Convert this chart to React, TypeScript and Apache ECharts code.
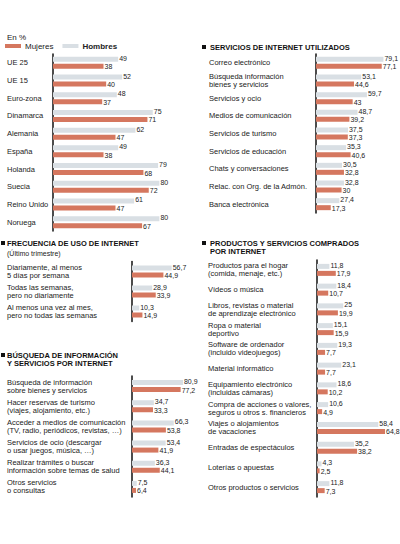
import React, { useEffect, useRef } from 'react';
import * as echarts from 'echarts';

// ---------- DATA ----------
const paisesCats = ['UE 25', 'UE 15', 'Euro-zona', 'Dinamarca', 'Alemania', 'España', 'Holanda', 'Suecia', 'Reino Unido', 'Noruega'];
const paisesHombres = [49, 52, 48, 75, 62, 49, 79, 80, 61, 80];
const paisesMujeres = [38, 40, 37, 71, 47, 38, 68, 72, 47, 67];

const serviciosCats = [
  'Correo electrónico',
  'Búsqueda información\nbienes y servicios',
  'Servicios y ocio',
  'Medios de comunicación',
  'Servicios de turismo',
  'Servicios de educación',
  'Chats y conversaciones',
  'Relac. con Org. de la Admón.',
  'Banca electrónica',
];
const serviciosHombres = [79.1, 53.1, 59.7, 48.7, 37.5, 35.3, 30.5, 32.8, 27.4];
const serviciosMujeres = [77.1, 44.6, 43, 39.2, 37.3, 40.6, 32.8, 30, 17.3];

const frecuenciaCats = [
  'Diariamente, al menos\n5 días por semana',
  'Todas las semanas,\npero no diariamente',
  'Al menos una vez al mes,\npero no todas las semanas',
];
const frecuenciaHombres = [56.7, 28.9, 10.3];
const frecuenciaMujeres = [44.9, 33.9, 14.9];

const busquedaCats = [
  'Búsqueda de información\nsobre bienes y servicios',
  'Hacer reservas de turismo\n(viajes, alojamiento, etc.)',
  'Acceder a medios de comunicación\n(TV, radio, periódicos, revistas, …)',
  'Servicios de ocio (descargar\no usar juegos, música, …)',
  'Realizar trámites o buscar\ninformación sobre temas de salud',
  'Otros servicios\no consultas',
];
const busquedaHombres = [80.9, 34.7, 66.3, 53.4, 36.3, 7.5];
const busquedaMujeres = [77.2, 33.3, 53.8, 41.9, 44.1, 6.4];

const productosCats = [
  'Productos para el hogar\n(comida, menaje, etc.)',
  'Vídeos o música',
  'Libros, revistas o material\nde aprendizaje electrónico',
  'Ropa o material\ndeportivo',
  'Software de ordenador\n(incluido videojuegos)',
  'Material informático',
  'Equipamiento electrónico\n(incluidas cámaras)',
  'Compra de acciones o valores,\nseguros u otros s. financieros',
  'Viajes o alojamientos\nde vacaciones',
  'Entradas de espectáculos',
  'Loterías o apuestas',
  'Otros productos o servicios',
];
const productosHombres = [11.8, 18.4, 25, 15.1, 19.3, 23.1, 18.6, 10.6, 58.4, 35.2, 4.3, 11.8];
const productosMujeres = [17.9, 10.7, 19.9, 15.9, 7.7, 7.7, 10.2, 4.9, 64.8, 38.2, 2.5, 7.3];

// ---------- STYLE ----------
const FONT = '"Liberation Sans", Arial, sans-serif';
const C_H = '#d9dfe4';
const C_M = '#d5775f';
const TXT = '#222';

const fmt = (p: any) => String(p.value).replace('.', ',');

type Panel = {
  cats: string[];
  h: number[];
  m: number[];
  left: number;
  top: number;
  width: number;
  height: number;
  max: number;
  labelX: number;
  barW: number;
};

const panels: Panel[] = [
  { cats: paisesCats, h: paisesHombres, m: paisesMujeres, left: 53, top: 54, width: 133, height: 177, max: 100, labelX: 7, barW: 5 },
  { cats: serviciosCats, h: serviciosHombres, m: serviciosMujeres, left: 316, top: 54, width: 81, height: 159, max: 95, labelX: 209, barW: 5 },
  { cats: frecuenciaCats, h: frecuenciaHombres, m: frecuenciaMujeres, left: 132, top: 261.5, width: 70, height: 60, max: 100, labelX: 7, barW: 5 },
  { cats: busquedaCats, h: busquedaHombres, m: busquedaMujeres, left: 132, top: 376, width: 63, height: 121, max: 100, labelX: 7, barW: 5 },
  { cats: productosCats, h: productosHombres, m: productosMujeres, left: 317, top: 260, width: 73.5, height: 237, max: 70, labelX: 208, barW: 5 },
];

function buildOption() {
  const grid: any[] = [];
  const xAxis: any[] = [];
  const yAxis: any[] = [];
  const series: any[] = [];
  panels.forEach((p, i) => {
    grid.push({ left: p.left, top: p.top, width: p.width, height: p.height, containLabel: false, outerBoundsMode: 'none' });
    xAxis.push({ type: 'value', gridIndex: i, min: 0, max: p.max, show: false });
    yAxis.push({
      type: 'category',
      gridIndex: i,
      data: p.cats,
      inverse: true,
      axisLine: { show: true, lineStyle: { color: '#111', width: 1.5 } },
      axisTick: { show: false },
      splitLine: { show: false },
      axisLabel: {
        align: 'left',
        margin: p.left - p.labelX,
        fontSize: 7.5,
        lineHeight: 8,
        color: TXT,
        fontFamily: FONT,
      },
    });
    const label = (dy: number) => ({
      show: true,
      position: 'right',
      distance: 1,
      offset: [0, dy],
      fontSize: 7,
      color: TXT,
      fontFamily: FONT,
      formatter: fmt,
    });
    series.push({
      name: 'Hombres',
      type: 'bar',
      xAxisIndex: i,
      yAxisIndex: i,
      data: p.h,
      barWidth: p.barW,
      barGap: '40%',
      itemStyle: { color: C_H },
      label: label(-1),
    });
    series.push({
      name: 'Mujeres',
      type: 'bar',
      xAxisIndex: i,
      yAxisIndex: i,
      data: p.m,
      barWidth: p.barW,
      barGap: '40%',
      itemStyle: { color: C_M },
      label: label(0.5),
    });
  });

  const headerStyle = { fill: '#111', fontSize: 7.5, fontWeight: 'bold', fontFamily: FONT, lineHeight: 8 };
  const bullet = (x: number, y: number) => ({ type: 'rect', left: x, top: y, shape: { width: 4, height: 4 }, style: { fill: '#111' } });

  const graphic: any[] = [
    { type: 'text', left: 7, top: 33, style: { text: 'En %', fontSize: 8, fill: TXT, fontFamily: FONT } },
    bullet(202, 45),
    { type: 'text', left: 210, top: 43, style: { text: 'SERVICIOS DE INTERNET UTILIZADOS', ...headerStyle } },
    bullet(1, 241),
    { type: 'text', left: 7, top: 239, style: { text: 'FRECUENCIA DE USO DE INTERNET', ...headerStyle } },
    { type: 'text', left: 7, top: 250, style: { text: '(Último trimestre)', fontSize: 7, fill: TXT, fontFamily: FONT } },
    bullet(1, 353),
    { type: 'text', left: 7, top: 351, style: { text: 'BÚSQUEDA DE INFORMACIÓN\nY SERVICIOS POR INTERNET', ...headerStyle } },
    bullet(202, 241),
    { type: 'text', left: 210, top: 239, style: { text: 'PRODUCTOS Y SERVICIOS COMPRADOS\nPOR INTERNET', ...headerStyle } },
  ];

  return {
    animation: false,
    backgroundColor: '#fff',
    textStyle: { fontFamily: FONT },
    legend: {
      left: 5,
      top: 42,
      padding: 0,
      itemWidth: 16,
      itemHeight: 4,
      itemGap: 9,
      icon: 'rect',
      selectedMode: false,
      data: [
        { name: 'Mujeres' },
        { name: 'Hombres', textStyle: { fontWeight: 'bold' } },
      ],
      textStyle: { fontSize: 8, color: TXT, fontFamily: FONT, padding: [0, 0, 0, -1] },
    },
    grid,
    xAxis,
    yAxis,
    series,
    graphic,
  };
}

export default function App() {
  const ref = useRef<HTMLDivElement>(null);
  useEffect(() => {
    if (!ref.current) return;
    const chart = echarts.init(ref.current, undefined, { renderer: 'svg' });
    chart.setOption(buildOption() as any);
    return () => chart.dispose();
  }, []);
  return <div ref={ref} style={{ position: 'fixed', left: 0, top: 0, width: 400, height: 544, background: '#fff' }} />;
}
